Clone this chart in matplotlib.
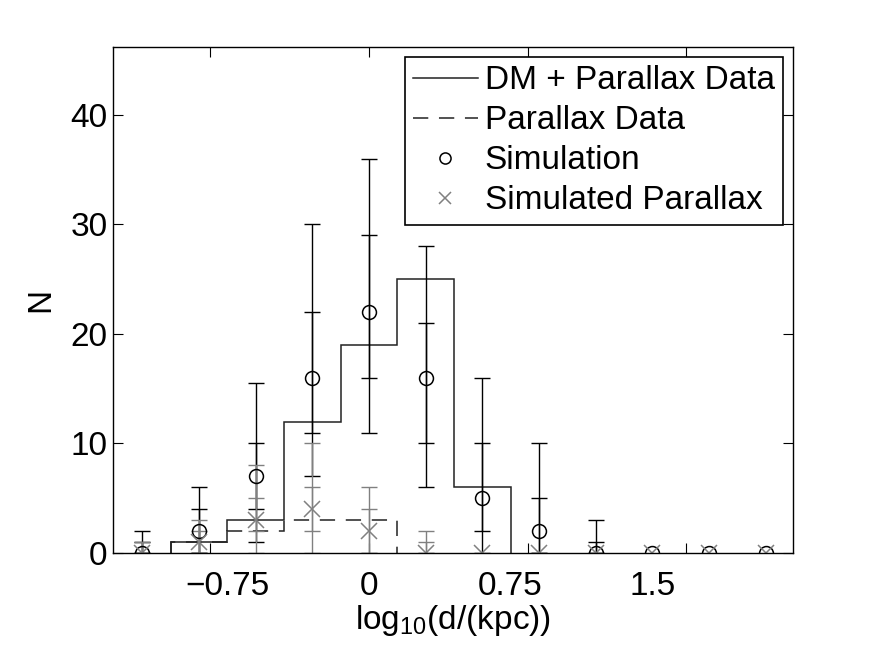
import numpy as np
import matplotlib
matplotlib.use("Agg")
import matplotlib.pyplot as plt

plt.rcParams['font.family'] = ['Liberation Sans', 'DejaVu Sans']
plt.rcParams['mathtext.fontset'] = 'custom'
plt.rcParams['mathtext.rm'] = 'Liberation Sans'
plt.rcParams['mathtext.default'] = 'regular'

# histogram of the data (bin edges and counts)
dm_edges = [-1.05, -0.75, -0.45, -0.15, 0.15, 0.45, 0.75]
dm_counts = [1, 3, 12, 19, 25, 6]
par_edges = [-1.05, -0.75, -0.45, -0.15, 0.15]
par_counts = [1, 2, 3, 3]

# simulation points
centers = [-1.2, -0.9, -0.6, -0.3, 0.0, 0.3, 0.6, 0.9, 1.2, 1.5, 1.8, 2.1]
sim = [0, 2, 7, 16, 22, 16, 5, 2, 0, 0, 0, 0]
sim_in_lo = [0, 0, 4, 11, 16, 10, 2, 0, 0, 0, 0, 0]
sim_in_hi = [1, 4, 10, 22, 29, 21, 10, 5, 1, 0, 0, 0]
sim_out_lo = [0, 0, 1, 7, 11, 6, 0, 0, 0, 0, 0, 0]
sim_out_hi = [2, 6, 15.5, 30, 36, 28, 16, 10, 3, 0, 0, 0]

simpar = [0, 1, 3, 4, 2, 0, 0, 0, 0, 0, 0, 0]
par_in_lo = [0, 0, 2, 2, 0, 0, 0, 0, 0, 0, 0, 0]
par_in_hi = [1, 2, 5, 6, 4, 1, 0, 0, 0, 0, 0, 0]
par_out_lo = [0, 0, 0, 0, 0, 0, 0, 0, 0, 0, 0, 0]
par_out_hi = [1, 3, 8, 10, 6, 2, 0, 0, 0, 0, 0, 0]

xtick_pos = [-0.84, 0, 0.84, 1.68]
xlabel_pos = [-0.75, 0, 0.75, 1.5]
xlabel_txt = ['\u22120.75', '0', '0.75', '1.5']
yticks = [0, 10, 20, 30, 40]

gray = '#808080'

fig = plt.figure(figsize=(8.75, 6.48), dpi=100)
ax = fig.add_axes([113/875, 95/648, 680/875, 506/648])


def bars(vals, lo, hi, color):
    v = np.array(vals, dtype=float)
    err = np.vstack([v - np.array(lo), np.array(hi) - v])
    keep = err.sum(axis=0) > 0
    ax.errorbar(np.array(centers)[keep], v[keep], yerr=err[:, keep], fmt='none',
                ecolor=color, elinewidth=1.0, capsize=5.5, capthick=1.0)


bars(sim, sim_out_lo, sim_out_hi, 'black')
bars(sim, sim_in_lo, sim_in_hi, 'black')
bars(simpar, par_out_lo, par_out_hi, gray)
bars(simpar, par_in_lo, par_in_hi, gray)

ax.stairs(dm_counts, dm_edges, color='#222222', lw=1.1, label='DM + Parallax Data')
ax.stairs(par_counts, par_edges, color='#222222', lw=1.1, linestyle=(0, (10, 7)),
          label='Parallax Data')
ax.plot(centers, sim, 'o', mfc='none', mec='black', ms=10, mew=1.1, label='Simulation')
ax.plot(centers, simpar, 'x', color=gray, ms=11, mew=1.1, label='Simulated Parallax')

ax.set_xlim(-1.355, 2.245)
ax.set_ylim(0, 46.2)

# ticks and labels sit at different places on the x axis
ax.xaxis.remove_overlapping_locs = False
ax.set_xticks(xtick_pos)
ax.set_xticklabels([])
ax.set_xticks(xlabel_pos, minor=True)
ax.set_xticklabels(xlabel_txt, minor=True, fontsize=24)
ax.tick_params(axis='x', which='minor', length=0, pad=13)
ax.set_yticks(yticks)
ax.tick_params(axis='both', which='major', direction='in', length=7, width=0.8,
               top=True, right=True, labelsize=24)
ax.tick_params(axis='y', pad=4)
for s in ax.spines.values():
    s.set_linewidth(1.0)

ax.set_xlabel('log$_{10}$(d/(kpc))', fontsize=24, labelpad=1)
ax.set_ylabel('N', fontsize=24, labelpad=10)

leg = ax.legend(loc='upper right', fontsize=24, frameon=True, fancybox=False,
                edgecolor='black', framealpha=1, borderaxespad=0.3, borderpad=0.25,
                labelspacing=0.27, handlelength=1.95, handletextpad=0.2, markerscale=0.8)
leg.get_frame().set_linewidth(1.2)

fig.savefig('out.png', dpi=100)
